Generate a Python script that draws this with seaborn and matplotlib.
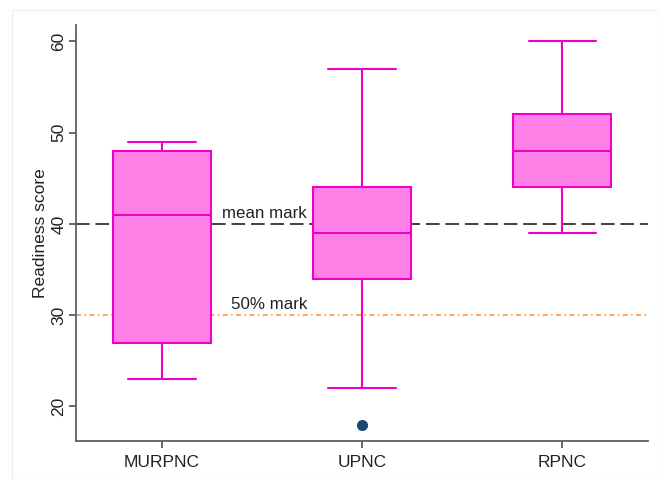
import pandas as pd
import matplotlib.pyplot as plt
import seaborn as sns
from matplotlib.patches import Rectangle

# data (values chosen so the box statistics match the reference)
groups = ['MURPNC', 'UPNC', 'RPNC']
murpnc = [23, 27, 41, 48, 49]
upnc = [18, 22, 34, 34, 39, 39, 44, 44, 57]
rpnc = [39, 44, 48, 52, 60]
mean_mark = 40
half_mark = 30

rows = []
for g, vals in zip(groups, [murpnc, upnc, rpnc]):
    for v in vals:
        rows.append({'group': g, 'score': v})
df = pd.DataFrame(rows)

sns.set_theme(style="white")
plt.rcParams['font.family'] = ['Liberation Sans', 'DejaVu Sans']

fig = plt.figure(figsize=(6.58, 4.8), dpi=100)
ax = fig.add_axes([0.1155, 0.081, 0.8695, 0.867])

edge = '#F000C8'
fill = '#FF80E6'

ax.axhline(mean_mark, color='#404040', lw=1.4, ls=(0, (7, 3)), zorder=0)
ax.axhline(half_mark, color='#FF9A3C', lw=1.2, ls=(0, (3, 2, 1, 2)), zorder=0)

sns.boxplot(
    data=df, x='group', y='score', order=groups,
    width=0.49, color=fill, linecolor=edge, linewidth=1.5,
    saturation=1, whis=1.5, ax=ax,
    flierprops=dict(marker='o', markerfacecolor='#1A476F', markeredgecolor='#1A476F', markersize=7),
    boxprops=dict(facecolor=fill, edgecolor=edge),
    whiskerprops=dict(color=edge), capprops=dict(color=edge),
    medianprops=dict(color=edge),
)
# wider whisker caps, as in the reference
for cap in ax.lines:
    xd = cap.get_xdata()
    yd = cap.get_ydata()
    if len(xd) == 2 and yd[0] == yd[1] and xd[0] != xd[1]:
        c = (xd[0] + xd[1]) / 2
        if abs(xd[1] - xd[0]) < 0.3:
            cap.set_xdata([c - 0.168, c + 0.168])

ax.text(0.3, mean_mark + 0.35, 'mean mark', fontsize=12.2, color='#222222', va='bottom', ha='left')
ax.text(0.345, half_mark + 0.35, '50% mark', fontsize=12.2, color='#222222', va='bottom', ha='left')

ax.set_xlim(-0.43, 2.43)
ax.set_ylim(16.2, 61.8)
ax.set_yticks([20, 30, 40, 50, 60])
ax.set_xlabel('')
ax.set_ylabel('Readiness score', fontsize=12.5, color='#222222', labelpad=2)
ax.tick_params(axis='y', labelrotation=90, labelsize=12.5, left=True, length=5, color='#555555',
               labelcolor='#222222', pad=2)
ax.tick_params(axis='x', labelsize=12.5, bottom=True, length=5, color='#555555', pad=5, labelcolor='#222222')
for lab in ax.get_yticklabels():
    lab.set_va('center')

sns.despine(ax=ax)
for s in ['left', 'bottom']:
    ax.spines[s].set_color('#606060')
    ax.spines[s].set_linewidth(1.3)

fig.patches.append(Rectangle((12 / 658, 0), 1 - 12 / 658, 1 - 10 / 480, transform=fig.transFigure,
                             fill=False, edgecolor='#F0F0F0', lw=1, zorder=-1))

plt.savefig('out.png', dpi=100)
